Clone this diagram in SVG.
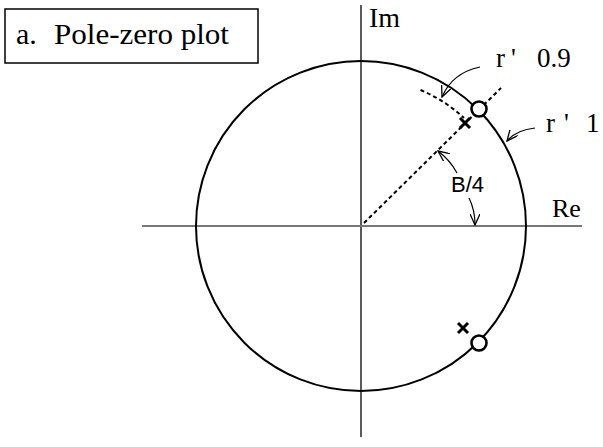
<svg xmlns="http://www.w3.org/2000/svg" width="603" height="447" viewBox="0 0 603 447">
<style>
.serif{font-family:"Liberation Serif","Times New Roman",serif;fill:#000}
.sans{font-family:"Liberation Sans",Arial,sans-serif;fill:#000}
.dash{fill:none;stroke:#000;stroke-width:2;stroke-dasharray:4 3}
.lead{fill:none;stroke:#000;stroke-width:1.2}
.mark{stroke:#000;stroke-width:3;stroke-linecap:butt}
</style>
<defs>
<marker id="arr" viewBox="0 0 12 10" refX="11" refY="5" markerWidth="12" markerHeight="10" markerUnits="userSpaceOnUse" orient="auto">
<path d="M0,0 L11,5 L0,10" fill="none" stroke="#000" stroke-width="1.3"/>
</marker>
</defs>
<rect width="603" height="447" fill="#fff"/>
<g id="title">
<rect x="5" y="9" width="253" height="54" fill="#fff" stroke="#000" stroke-width="1.5"/>
<text class="serif" font-size="30" y="44"><tspan x="16">a.</tspan><tspan x="54" textLength="175" lengthAdjust="spacingAndGlyphs">Pole-zero plot</tspan></text>
</g>
<g id="axes">
<line x1="361" y1="5" x2="361" y2="437" stroke="#000" stroke-width="1.3"/>
<line x1="142" y1="226" x2="582" y2="226" stroke="#777" stroke-width="2"/>
<text class="serif" font-size="28" x="369" y="27">Im</text>
<text class="serif" font-size="26" x="552" y="217">Re</text>
</g>
<g id="unit-circle">
<circle cx="361" cy="226" r="165" fill="none" stroke="#000" stroke-width="2"/>
</g>
<g id="radius-guides">
<path class="dash" d="M364,223 L501,88"/>
<path class="dash" d="M420.5,90 A148.5,148.5 0 0 1 464,118"/>
</g>
<g id="zero-upper">
<circle cx="479" cy="109" r="7.5" fill="#fff" stroke="#000" stroke-width="2.6"/>
</g>
<g id="pole-upper">
<path class="mark" d="M460,118 L470,128 M470,118 L460,128"/>
</g>
<g id="zero-lower">
<circle cx="479" cy="343" r="7.5" fill="#fff" stroke="#000" stroke-width="2.6"/>
</g>
<g id="pole-lower">
<path class="mark" d="M458,323 L468,333 M468,323 L458,333"/>
</g>
<g id="labels">
<text class="serif" font-size="27" y="67"><tspan x="496">r</tspan><tspan x="511">'</tspan><tspan x="537">0.9</tspan></text>
<text class="serif" font-size="27" y="132"><tspan x="546">r</tspan><tspan x="564">'</tspan><tspan x="586">1</tspan></text>
<text class="sans" font-size="22" x="451" y="192">B/4</text>
</g>
<g id="connectors">
<path class="lead" d="M480,67 Q452,73 442,97" marker-end="url(#arr)"/>
<path class="lead" d="M535,128 Q516,130 507,141" marker-end="url(#arr)"/>
<path class="lead" d="M457,173 Q450,160 438,151" marker-end="url(#arr)"/>
<path class="lead" d="M469,198 Q475,210 475,225" marker-end="url(#arr)"/>
</g>
</svg>
